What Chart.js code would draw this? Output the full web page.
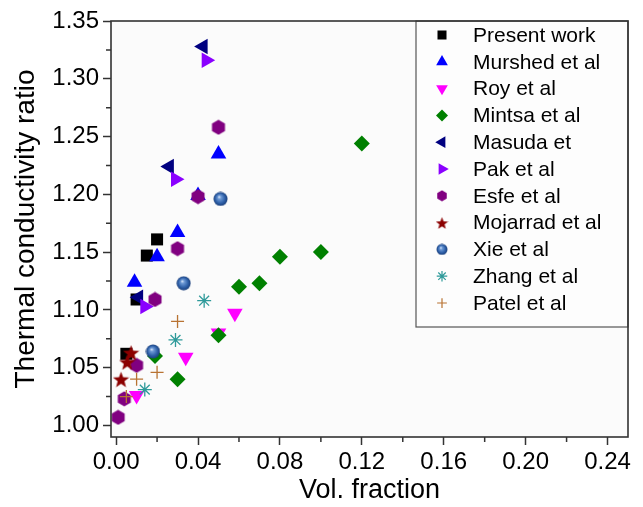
<!DOCTYPE html>
<html lang="en">
<head>
<meta charset="UTF-8">
<title>Thermal conductivity ratio vs volume fraction</title>
<script src="https://cdn.jsdelivr.net/npm/chart.js"></script>
<style>
  html, body { margin: 0; padding: 0; background: #fff; }
</style>
</head>
<body>
<canvas id="chart" width="643" height="507"></canvas>
<script>
// data (vol. fraction, k ratio)
const presentX  = [0.005, 0.010, 0.015, 0.020];
const presentY  = [1.062, 1.109, 1.147, 1.161];
const murshedX  = [0.009, 0.020, 0.030, 0.040, 0.050];
const murshedY  = [1.124, 1.146, 1.167, 1.199, 1.235];
const royX      = [0.010, 0.034, 0.050, 0.058];
const royY      = [1.026, 1.059, 1.080, 1.097];
const mintsaX   = [0.019, 0.030, 0.050, 0.060, 0.070, 0.080, 0.100, 0.120];
const mintsaY   = [1.060, 1.040, 1.078, 1.120, 1.123, 1.146, 1.150, 1.244];
const masudaX   = [0.011, 0.026, 0.0425];
const masudaY   = [1.111, 1.224, 1.328];
const pakX      = [0.014, 0.029, 0.044];
const pakY      = [1.103, 1.213, 1.316];
const esfeX     = [0.001, 0.004, 0.010, 0.019, 0.030, 0.040, 0.050];
const esfeY     = [1.007, 1.023, 1.052, 1.109, 1.153, 1.198, 1.258];
const mojarradX = [0.0024, 0.0054, 0.0073];
const mojarradY = [1.040, 1.055, 1.063];
const xieX      = [0.018, 0.033, 0.051];
const xieY      = [1.064, 1.123, 1.196];
const zhangX    = [0.014, 0.029, 0.043];
const zhangY    = [1.031, 1.074, 1.108];
const patelX    = [0.005, 0.010, 0.020, 0.030];
const patelY    = [1.025, 1.040, 1.046, 1.090];

const seriesNames = ['Present work', 'Murshed et al', 'Roy et al', 'Mintsa et al', 'Masuda et',
  'Pak et al', 'Esfe et al', 'Mojarrad et al', 'Xie et al', 'Zhang et al', 'Patel et al'];

const xTicks = [0.00, 0.04, 0.08, 0.12, 0.16, 0.20, 0.24];
const xMinor = [0.02, 0.06, 0.10, 0.14, 0.18, 0.22];
const yTicks = [1.00, 1.05, 1.10, 1.15, 1.20, 1.25, 1.30, 1.35];
const yMinor = [1.025, 1.075, 1.125, 1.175, 1.225, 1.275, 1.325];

// custom marker images
function makeHex(size, color) {
  const c = document.createElement('canvas');
  c.width = c.height = size;
  const g = c.getContext('2d');
  const r = size / 2 - 0.5;
  g.beginPath();
  for (let i = 0; i < 6; i++) {
    const a = (-90 + 60 * i) * Math.PI / 180;
    const px = size / 2 + r * Math.cos(a), py = size / 2 + r * Math.sin(a);
    i ? g.lineTo(px, py) : g.moveTo(px, py);
  }
  g.closePath();
  g.fillStyle = color;
  g.fill();
  return c;
}
function makeStar(size, color) {
  const c = document.createElement('canvas');
  c.width = c.height = size;
  const g = c.getContext('2d');
  const R = size / 2, r = R * 0.42;
  g.beginPath();
  for (let i = 0; i < 10; i++) {
    const a = (-90 + 36 * i) * Math.PI / 180;
    const rr = i % 2 ? r : R;
    const px = size / 2 + rr * Math.cos(a), py = size / 2 + 1 + rr * Math.sin(a);
    i ? g.lineTo(px, py) : g.moveTo(px, py);
  }
  g.closePath();
  g.fillStyle = color;
  g.fill();
  return c;
}
function makeBall(size) {
  const c = document.createElement('canvas');
  c.width = c.height = size;
  const g = c.getContext('2d');
  const r = size / 2 - 0.5;
  const grad = g.createRadialGradient(size * 0.4, size * 0.35, 0, size / 2, size / 2, r);
  grad.addColorStop(0, '#e8f0ff');
  grad.addColorStop(0.25, '#6f9bd6');
  grad.addColorStop(0.7, '#2d5fa8');
  grad.addColorStop(1, '#1b3f7a');
  g.beginPath();
  g.arc(size / 2, size / 2, r, 0, Math.PI * 2);
  g.fillStyle = grad;
  g.fill();
  return c;
}

const hexImg = makeHex(16, '#800080'), hexLeg = makeHex(12, '#800080');
const starImg = makeStar(17, '#8b0000'), starLeg = makeStar(13, '#8b0000');
const ballImg = makeBall(15), ballLeg = makeBall(12);

const styles = [
  { color: '#000000', pointStyle: 'rect', radius: 8.5, rotation: 0 },
  { color: '#0000ff', pointStyle: 'triangle', radius: 9, rotation: 0 },
  { color: '#ff00ff', pointStyle: 'triangle', radius: 9, rotation: 180 },
  { color: '#008000', pointStyle: 'rectRot', radius: 8, rotation: 0 },
  { color: '#000080', pointStyle: 'triangle', radius: 9, rotation: 270 },
  { color: '#8a00ff', pointStyle: 'triangle', radius: 9, rotation: 90 },
  { color: '#800080', pointStyle: hexImg, legend: hexLeg, radius: 8, rotation: 0 },
  { color: '#8b0000', pointStyle: starImg, legend: starLeg, radius: 8, rotation: 0 },
  { color: '#2d5fa8', pointStyle: ballImg, legend: ballLeg, radius: 8, rotation: 0 },
  { color: '#2e9a9a', pointStyle: 'star', radius: 7, rotation: 0, line: true },
  { color: '#b87333', pointStyle: 'cross', radius: 6.5, rotation: 0, line: true }
];

const xs = [presentX, murshedX, royX, mintsaX, masudaX, pakX, esfeX, mojarradX, xieX, zhangX, patelX];
const ys = [presentY, murshedY, royY, mintsaY, masudaY, pakY, esfeY, mojarradY, xieY, zhangY, patelY];

const datasets = seriesNames.map((name, i) => ({
  label: name,
  data: xs[i].map((x, j) => ({ x: x, y: ys[i][j] })),
  pointStyle: styles[i].pointStyle,
  pointRadius: styles[i].radius,
  pointRotation: styles[i].rotation,
  backgroundColor: styles[i].color,
  borderColor: styles[i].color,
  borderWidth: styles[i].line ? 1.3 : 0,
  showLine: false,
  order: seriesNames.length - i   // later series drawn on top
}));

const frameAndLegend = {
  id: 'frameAndLegend',
  beforeDatasetsDraw(chart) {
    const { ctx, chartArea: a } = chart;
    ctx.save();
    ctx.fillStyle = '#fbfbfb';
    ctx.fillRect(a.left, a.top, a.right - a.left, a.bottom - a.top);
    ctx.restore();
  },
  afterDraw(chart) {
    const { ctx, chartArea: a, scales } = chart;
    ctx.save();
    // minor ticks
    ctx.strokeStyle = '#333';
    ctx.lineWidth = 1.5;
    ctx.beginPath();
    xMinor.forEach(v => {
      const px = scales.x.getPixelForValue(v);
      ctx.moveTo(px, a.bottom); ctx.lineTo(px, a.bottom + 5);
    });
    yMinor.forEach(v => {
      const py = scales.y.getPixelForValue(v);
      ctx.moveTo(a.left, py); ctx.lineTo(a.left - 5, py);
    });
    ctx.stroke();

    // legend box
    const lx = a.right - 212, ly = a.top, lw = 212, lh = 306;
    ctx.fillStyle = '#fdfdfd';
    ctx.fillRect(lx, ly, lw, lh);
    ctx.strokeStyle = '#555';
    ctx.lineWidth = 1.2;
    ctx.strokeRect(lx, ly, lw, lh);

    ctx.font = '21px "Liberation Sans", Arial, sans-serif';
    ctx.textBaseline = 'middle';
    seriesNames.forEach((name, i) => {
      const s = styles[i];
      const cy = ly + 14 + i * 26.8, cx = lx + 26;
      ctx.fillStyle = s.color;
      ctx.strokeStyle = s.color;
      if (s.legend) {
        ctx.drawImage(s.legend, cx - s.legend.width / 2, cy - s.legend.height / 2);
      } else {
        Chart.helpers.drawPoint(ctx, {
          pointStyle: s.pointStyle,
          radius: s.radius * 0.75,
          rotation: s.rotation,
          borderWidth: s.line ? 1.1 : 0
        }, cx, cy);
      }
      ctx.fillStyle = '#000';
      ctx.fillText(name, lx + 57, cy + 1);
    });

    // frame
    ctx.strokeStyle = '#333';
    ctx.lineWidth = 1.6;
    ctx.strokeRect(a.left, a.top, a.right - a.left, a.bottom - a.top);
    ctx.restore();
  }
};

Chart.defaults.font.family = '"Liberation Sans", Arial, sans-serif';
Chart.defaults.color = '#000';

new Chart(document.getElementById('chart'), {
  type: 'scatter',
  data: { datasets: datasets },
  options: {
    responsive: false,
    animation: false,
    layout: { padding: { left: 6, top: 21, right: 15, bottom: 0 } },
    plugins: { legend: { display: false }, tooltip: { enabled: false } },
    scales: {
      x: {
        type: 'linear',
        min: -0.0025,
        max: 0.25,
        afterBuildTicks: s => { s.ticks = xTicks.map(v => ({ value: v })); },
        afterFit: s => { s.height = 70; },
        border: { display: false },
        grid: { drawOnChartArea: false, drawTicks: true, tickLength: 8, tickColor: '#333', tickWidth: 1.5 },
        ticks: { font: { size: 24 }, padding: 3, maxRotation: 0, callback: v => v.toFixed(2) },
        title: { display: true, text: 'Vol. fraction', font: { size: 27 }, padding: { top: 0, bottom: 0 } }
      },
      y: {
        type: 'linear',
        min: 0.99,
        max: 1.35,
        afterBuildTicks: s => { s.ticks = yTicks.map(v => ({ value: v })); },
        afterFit: s => { s.width = 105; },
        border: { display: false },
        grid: { drawOnChartArea: false, drawTicks: true, tickLength: 8, tickColor: '#333', tickWidth: 1.5 },
        ticks: { font: { size: 24 }, padding: 4, callback: v => v.toFixed(2) },
        title: { display: true, text: 'Thermal conductivity ratio', font: { size: 28 }, padding: { top: 3, bottom: 0 } }
      }
    }
  },
  plugins: [frameAndLegend]
});
</script>
</body>
</html>
